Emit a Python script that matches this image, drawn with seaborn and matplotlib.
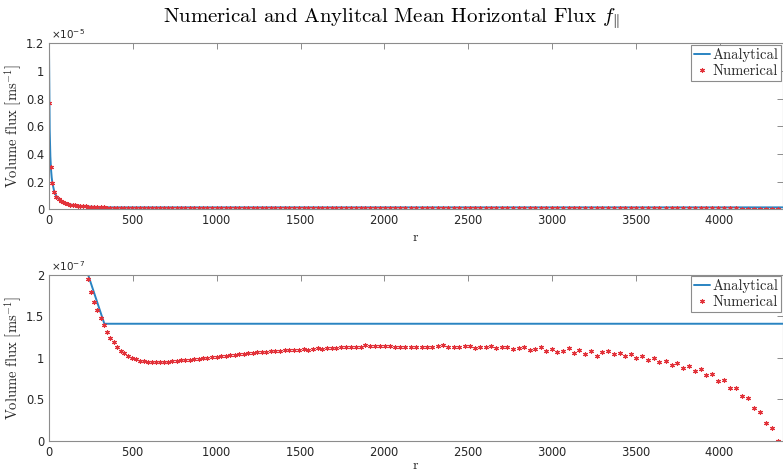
import matplotlib
matplotlib.use("Agg")
import matplotlib.pyplot as plt
from matplotlib.ticker import FuncFormatter
import numpy as np
import pandas as pd
import seaborn as sns

# ---------------- data ----------------
# Numerical mean horizontal flux (values in units of 1e-7 m s^-1)
r_num = [2, 10, 20, 32, 44, 57, 70, 84, 98, 112, 126, 141, 156, 171, 186, 202, 218, 234,
         251, 270, 289, 308, 327, 346, 365, 385, 406, 427, 449, 471, 494, 517, 541, 565,
         589, 613, 637, 661, 686, 711, 736, 762, 788, 814, 840, 866, 892, 918, 945, 972,
         999, 1026, 1053, 1080, 1107, 1134, 1161, 1188, 1215, 1242, 1269, 1296, 1323, 1350,
         1378, 1406, 1434, 1462, 1490, 1518, 1546, 1574, 1602, 1630, 1658, 1686, 1714, 1742,
         1771, 1800, 1829, 1858, 1887, 1916, 1945, 1974, 2003, 2032, 2062, 2092, 2124, 2157,
         2190, 2223, 2255, 2287, 2319, 2350, 2380, 2414, 2446, 2479, 2509, 2539, 2573, 2604,
         2638, 2668, 2702, 2733, 2767, 2801, 2833, 2866, 2896, 2932, 2966, 3000, 3031, 3065,
         3099, 3131, 3164, 3198, 3234, 3268, 3300, 3333, 3367, 3403, 3437, 3470, 3504, 3538,
         3573, 3607, 3641, 3677, 3713, 3747, 3783, 3817, 3852, 3886, 3921, 3955, 3991, 4026,
         4062, 4098, 4134, 4170, 4205, 4241, 4277, 4313, 4348]
flux_num_e7 = [76.6, 30.8, 18.8, 12.7, 9.2, 7.1, 5.9, 5.0, 4.3, 3.8, 3.4, 3.05, 2.77, 2.54,
               2.34, 2.17, 2.05, 1.95,
               1.79, 1.675, 1.57, 1.48, 1.39, 1.314, 1.242, 1.186, 1.134, 1.082, 1.054, 1.022,
               0.996, 0.982, 0.967, 0.957, 0.953, 0.951, 0.95, 0.951, 0.953, 0.956, 0.96, 0.964,
               0.969, 0.974, 0.979, 0.985, 0.991, 0.997, 1.003, 1.008, 1.014, 1.02, 1.025, 1.03,
               1.036, 1.042, 1.048, 1.054, 1.062, 1.066, 1.07, 1.074, 1.078, 1.082, 1.086, 1.09,
               1.094, 1.096, 1.1, 1.106, 1.1, 1.112, 1.118, 1.106, 1.12, 1.124, 1.12, 1.13,
               1.132, 1.128, 1.13, 1.126, 1.15, 1.146, 1.142, 1.14, 1.138, 1.137, 1.136, 1.134,
               1.134, 1.133, 1.134, 1.135, 1.134, 1.136, 1.137, 1.158, 1.126, 1.126, 1.126,
               1.142, 1.142, 1.114, 1.134, 1.134, 1.138, 1.114, 1.134, 1.134, 1.106, 1.114,
               1.134, 1.094, 1.106, 1.134, 1.086, 1.11, 1.066, 1.086, 1.114, 1.062, 1.094,
               1.042, 1.082, 1.022, 1.07, 1.086, 1.046, 1.062, 1.026, 1.046, 1.002, 1.018,
               0.978, 0.994, 0.954, 0.966, 0.917, 0.937, 0.881, 0.897, 0.845, 0.861, 0.789,
               0.805, 0.725, 0.737, 0.641, 0.641, 0.537, 0.513, 0.397, 0.345, 0.212, 0.152, 0.0]

# Analytical mean horizontal flux (values in units of 1e-7 m s^-1)
r_ana = [0, 4, 8, 12, 16, 20, 30, 40, 50, 60, 80, 100, 130, 160, 200, 233, 330, 4380]
flux_ana_e7 = [115, 57.5, 38.3, 28.8, 23.0, 19.2, 13.5, 10.5, 8.5, 7.1, 5.4, 4.4, 3.4,
               2.8, 2.3, 2.0, 1.41, 1.41]

top_yticks_e5 = [0, 0.2, 0.4, 0.6, 0.8, 1.0, 1.2]
bot_yticks_e7 = [0, 0.5, 1.0, 1.5, 2.0]
xticks = [0, 500, 1000, 1500, 2000, 2500, 3000, 3500, 4000]

num = pd.DataFrame({"r": r_num, "flux": np.array(flux_num_e7) * 1e-7})
ana = pd.DataFrame({"r": r_ana, "flux": np.array(flux_ana_e7) * 1e-7})

# ---------------- style ----------------
sns.set_style("white")
plt.rcParams["font.family"] = ["DejaVu Sans"]
plt.rcParams["axes.formatter.use_mathtext"] = True

BLUE = "#2a84c2"
RED = "#e2323a"
SPINE = "#8c8c8c"
TXT = "#262626"
SERIF = "cmr10"

fig = plt.figure(figsize=(7.83, 4.74), dpi=100)
ax1 = fig.add_axes([0.0626, 0.5584, 0.9368, 0.3502])
ax2 = fig.add_axes([0.0626, 0.0696, 0.9368, 0.3509])

def draw(ax, ymax, yticks, scale, expo, xlabelpad):
    sns.lineplot(data=ana, x="r", y="flux", ax=ax, color=BLUE, linewidth=1.4,
                 estimator=None, sort=False, label="Analytical")
    sns.lineplot(data=num, x="r", y="flux", ax=ax, color=RED, linestyle="",
                 marker=(6, 2, 0), markersize=3.4, markeredgewidth=0.8,
                 markeredgecolor=RED, estimator=None, sort=False, label="Numerical")
    ax.set_xlim(0, 4375)
    ax.set_ylim(0, ymax)
    ax.set_xticks(xticks)
    ax.set_yticks([v * scale for v in yticks])
    ax.yaxis.set_major_formatter(FuncFormatter(lambda v, p: f"{v / scale:g}"))
    ax.tick_params(direction="in", top=True, right=True, length=4.5, width=0.7,
                   color=SPINE, labelsize=8.3, labelcolor=TXT, pad=3.5)
    for s in ax.spines.values():
        s.set_color(SPINE)
        s.set_linewidth(0.8)
        s.set_visible(True)
    ax.set_xlabel("r", fontfamily=SERIF, fontsize=10, color=TXT, labelpad=xlabelpad)
    ax.set_ylabel(r"Volume flux [ms$^{-1}$]", fontfamily=SERIF, fontsize=10.5,
                  color=TXT, labelpad=1.5, math_fontfamily="cm")
    ax.text(0.003, 1.012, r"$\times10^{%d}$" % expo, transform=ax.transAxes,
            fontsize=7.5, ha="left", va="bottom", color=TXT,
            math_fontfamily="dejavusans")
    leg = ax.legend(loc="upper right", frameon=True, fancybox=False,
                    prop={"family": SERIF, "size": 10.5}, borderaxespad=0.1,
                    handlelength=1.1, handletextpad=0.15, borderpad=0.2,
                    labelspacing=0.15, framealpha=1)
    leg.get_frame().set_edgecolor(SPINE)
    leg.get_frame().set_linewidth(0.8)

draw(ax1, 1.2e-5, top_yticks_e5, 1e-5, -5, 3.5)
draw(ax2, 2e-7, bot_yticks_e7, 1e-7, -7, 1.0)

fig.text(0.5, 0.985, r"Numerical and Anylitcal Mean Horizontal Flux $f_{\Vert}$",
         ha="center", va="top", fontfamily=SERIF, fontsize=15, color="black",
         math_fontfamily="cm")

fig.savefig("out.png", dpi=100)
